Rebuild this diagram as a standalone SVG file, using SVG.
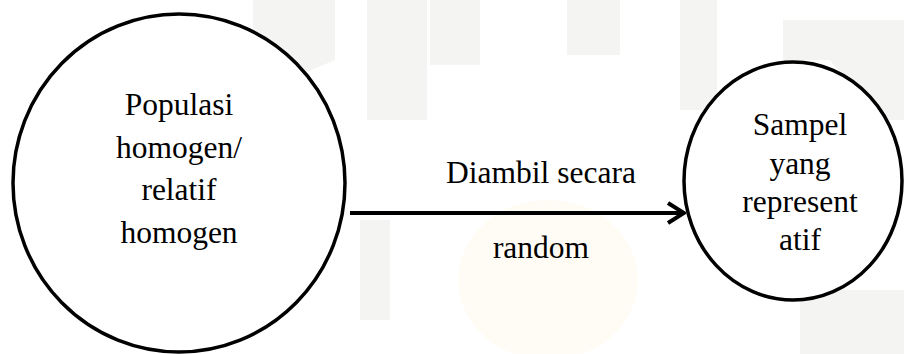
<svg xmlns="http://www.w3.org/2000/svg" width="904" height="354" viewBox="0 0 904 354">
  <style>
    .node { fill: #ffffff; stroke: #000000; stroke-width: 3.5; }
    .lbl { font-family: "Liberation Serif", "Times New Roman", serif; font-size: 31.5px; fill: #000000; text-anchor: middle; }
    .conn { stroke: #000000; stroke-width: 4; fill: none; }
    .wm { fill: #f4f4f2; }
  </style>
  <defs>
    <marker id="arrow" viewBox="0 0 20 24" refX="18" refY="12" markerWidth="20" markerHeight="24" markerUnits="userSpaceOnUse" orient="auto">
      <path d="M2,2 L18,12 L2,22" fill="none" stroke="#000" stroke-width="4"/>
    </marker>
  </defs>
  <rect width="904" height="354" fill="#ffffff"/>
  <g id="watermark">
    <polygon class="wm" points="253,0 335,0 335,60 253,95"/>
    <rect class="wm" x="367" y="0" width="60" height="120"/>
    <rect class="wm" x="430" y="0" width="50" height="65"/>
    <rect class="wm" x="567" y="0" width="53" height="55"/>
    <rect class="wm" x="680" y="0" width="37" height="110"/>
    <polygon class="wm" points="783,20 904,20 904,120 880,120 830,60 783,60"/>
    <rect class="wm" x="800" y="290" width="104" height="64"/>
    <rect class="wm" x="360" y="220" width="30" height="100"/>
    <ellipse cx="548" cy="280" rx="90" ry="80" fill="#fefcf4"/>
  </g>
  <g id="connectors">
    <line class="conn" x1="350" y1="213" x2="684" y2="213" marker-end="url(#arrow)"/>
    <text class="lbl" x="541" y="183">Diambil secara</text>
    <text class="lbl" x="541" y="258">random</text>
  </g>
  <g id="populasi">
    <ellipse class="node" cx="179" cy="183" rx="166" ry="169"/>
    <text class="lbl" x="179" y="115">Populasi</text>
    <text class="lbl" x="179" y="158">homogen/</text>
    <text class="lbl" x="179" y="200">relatif</text>
    <text class="lbl" x="179" y="243">homogen</text>
  </g>
  <g id="sampel">
    <ellipse class="node" cx="793" cy="181" rx="109" ry="119"/>
    <text class="lbl" x="800" y="135">Sampel</text>
    <text class="lbl" x="800" y="174">yang</text>
    <text class="lbl" x="800" y="212">represent</text>
    <text class="lbl" x="800" y="250">atif</text>
  </g>
</svg>
